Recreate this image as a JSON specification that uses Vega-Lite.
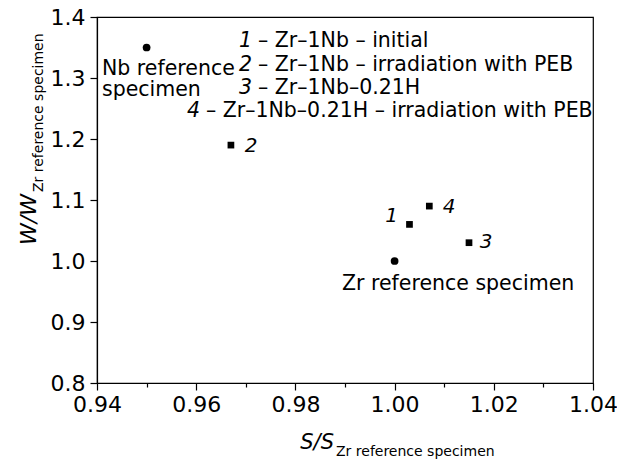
{
  "$schema": "https://vega.github.io/schema/vega-lite/v6.json",
  "width": 496,
  "height": 366,
  "autosize": {"type": "none"},
  "padding": {"left": 97, "top": 17, "right": 24, "bottom": 80},
  "background": "white",
  "config": {
    "view": {"stroke": "black", "strokeWidth": 1.2},
    "font": "DejaVu Sans",
    "text": {"font": "DejaVu Sans", "color": "black"}
  },
  "layer": [
    {
      "data": {"values": [
        {"s": 0.95, "w": 1.35, "kind": "reference", "name": "Nb reference specimen"},
        {"s": 1.0, "w": 1.0, "kind": "reference", "name": "Zr reference specimen"},
        {"s": 1.003, "w": 1.06, "kind": "specimen", "name": "1"},
        {"s": 0.967, "w": 1.19, "kind": "specimen", "name": "2"},
        {"s": 1.015, "w": 1.03, "kind": "specimen", "name": "3"},
        {"s": 1.007, "w": 1.09, "kind": "specimen", "name": "4"}
      ]},
      "mark": {"type": "point", "filled": true, "color": "black", "opacity": 1},
      "encoding": {
        "x": {
          "field": "s", "type": "quantitative", "title": null,
          "scale": {"domain": [0.94, 1.04], "nice": false, "zero": false},
          "axis": {
            "grid": false,
            "values": [0.94, 0.95, 0.96, 0.97, 0.98, 0.99, 1.0, 1.01, 1.02, 1.03, 1.04],
            "labelExpr": "round(datum.value*100)%2==0 ? format(datum.value,'.2f') : ''",
            "tickSize": {"condition": {"test": "round(datum.value*100)%2==0", "value": 7}, "value": 4},
            "tickColor": "black", "tickWidth": 1.2,
            "domainColor": "black", "domainWidth": 1.2,
            "labelColor": "black", "labelFont": "DejaVu Sans", "labelFontSize": 22,
            "labelPadding": 4, "labelFlush": false, "labelOverlap": false
          }
        },
        "y": {
          "field": "w", "type": "quantitative", "title": null,
          "scale": {"domain": [0.8, 1.4], "nice": false, "zero": false},
          "axis": {
            "grid": false,
            "values": [0.8, 0.85, 0.9, 0.95, 1.0, 1.05, 1.1, 1.15, 1.2, 1.25, 1.3, 1.35, 1.4],
            "labelExpr": "round(datum.value*100)%10==0 ? format(datum.value,'.1f') : ''",
            "tickSize": {"condition": {"test": "round(datum.value*100)%10==0", "value": 7}, "value": 4},
            "tickColor": "black", "tickWidth": 1.2,
            "domainColor": "black", "domainWidth": 1.2,
            "labelColor": "black", "labelFont": "DejaVu Sans", "labelFontSize": 22,
            "labelPadding": 5, "labelFlush": false, "labelOverlap": false
          }
        },
        "shape": {"field": "kind", "type": "nominal", "scale": {"domain": ["reference", "specimen"], "range": ["circle", "square"]}, "legend": null},
        "size": {"field": "kind", "type": "nominal", "scale": {"domain": ["reference", "specimen"], "range": [60, 45]}, "legend": null}
      }
    },
    {
      "data": {"values": [
        {"s": 0.99938, "w": 1.06393, "label": "1"},
        {"s": 0.97105, "w": 1.17787, "label": "2"},
        {"s": 1.01843, "w": 1.02131, "label": "3"},
        {"s": 1.01097, "w": 1.07869, "label": "4"}
      ]},
      "mark": {"type": "text", "fontSize": 20, "fontStyle": "italic", "align": "center", "baseline": "alphabetic", "color": "black"},
      "encoding": {
        "x": {"field": "s", "type": "quantitative", "title": null},
        "y": {"field": "w", "type": "quantitative", "title": null},
        "text": {"field": "label"}
      }
    },
    {
      "data": {"values": [
        {"s": 0.97206, "w": 1.35082, "num": "1", "desc": "– Zr–1Nb – initial"},
        {"s": 0.97206, "w": 1.31148, "num": "2", "desc": "– Zr–1Nb – irradiation with PEB"},
        {"s": 0.97206, "w": 1.27377, "num": "3", "desc": "– Zr–1Nb–0.21H"},
        {"s": 0.96157, "w": 1.23607, "num": "4", "desc": "– Zr–1Nb–0.21H – irradiation with PEB"}
      ]},
      "layer": [
        {
          "mark": {"type": "text", "fontSize": 20.5, "fontStyle": "italic", "align": "right", "baseline": "alphabetic", "dx": -4, "color": "black"},
          "encoding": {
            "x": {"field": "s", "type": "quantitative", "title": null},
            "y": {"field": "w", "type": "quantitative", "title": null},
            "text": {"field": "num"}
          }
        },
        {
          "mark": {"type": "text", "fontSize": 20.5, "align": "left", "baseline": "alphabetic", "dx": 2, "color": "black"},
          "encoding": {
            "x": {"field": "s", "type": "quantitative", "title": null},
            "y": {"field": "w", "type": "quantitative", "title": null},
            "text": {"field": "desc"}
          }
        }
      ]
    },
    {
      "data": {"values": [
        {"s": 0.94101, "w": 1.30492, "label": "Nb reference"},
        {"s": 0.94101, "w": 1.27049, "label": "specimen"},
        {"s": 0.9894, "w": 0.95246, "label": "Zr reference specimen"}
      ]},
      "mark": {"type": "text", "fontSize": 20.5, "align": "left", "baseline": "alphabetic", "color": "black"},
      "encoding": {
        "x": {"field": "s", "type": "quantitative", "title": null},
        "y": {"field": "w", "type": "quantitative", "title": null},
        "text": {"field": "label"}
      }
    },
    {
      "data": {"values": [
        {"s": 0.98778, "w": 0.6918, "label": "S/S"}
      ]},
      "mark": {"type": "text", "fontSize": 21, "fontStyle": "italic", "align": "right", "baseline": "alphabetic", "color": "black"},
      "encoding": {
        "x": {"field": "s", "type": "quantitative", "title": null},
        "y": {"field": "w", "type": "quantitative", "title": null},
        "text": {"field": "label"}
      }
    },
    {
      "data": {"values": [
        {"s": 0.98819, "w": 0.68033, "label": "Zr reference specimen"}
      ]},
      "mark": {"type": "text", "fontSize": 14, "align": "left", "baseline": "alphabetic", "color": "black"},
      "encoding": {
        "x": {"field": "s", "type": "quantitative", "title": null},
        "y": {"field": "w", "type": "quantitative", "title": null},
        "text": {"field": "label"}
      }
    },
    {
      "data": {"values": [
        {"s": 0.9277, "w": 1.10984, "label": "W/W"}
      ]},
      "mark": {"type": "text", "fontSize": 22, "fontStyle": "italic", "align": "right", "baseline": "alphabetic", "angle": 270, "color": "black"},
      "encoding": {
        "x": {"field": "s", "type": "quantitative", "title": null},
        "y": {"field": "w", "type": "quantitative", "title": null},
        "text": {"field": "label"}
      }
    },
    {
      "data": {"values": [
        {"s": 0.92911, "w": 1.11311, "label": "Zr reference specimen"}
      ]},
      "mark": {"type": "text", "fontSize": 14, "align": "left", "baseline": "alphabetic", "angle": 270, "color": "black"},
      "encoding": {
        "x": {"field": "s", "type": "quantitative", "title": null},
        "y": {"field": "w", "type": "quantitative", "title": null},
        "text": {"field": "label"}
      }
    }
  ]
}
